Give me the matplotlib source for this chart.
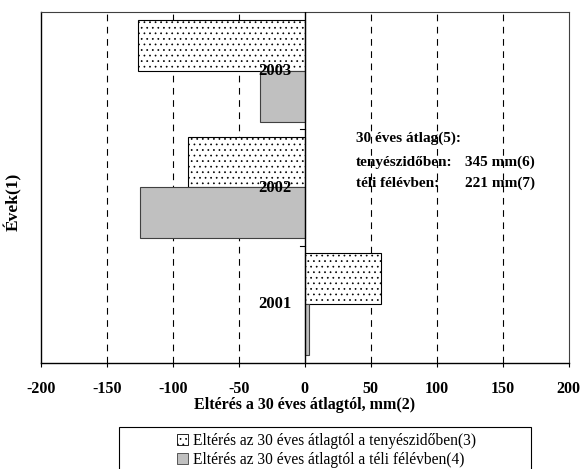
import numpy as np
import matplotlib
matplotlib.use("Agg")
import matplotlib.pyplot as plt
from matplotlib.patches import Patch, Rectangle

plt.rcParams['font.family'] = ['Liberation Serif', 'DejaVu Serif']
plt.rcParams['hatch.linewidth'] = 0.5
plt.rcParams['hatch.color'] = '#333333'

# Deviation from the 30-year average (mm)
years = ['2001', '2002', '2003']
growing_season = [57.6, -88.4, -126.5]   # tenyészidőben (3)
winter_half = [3.3, -125.0, -33.5]       # téli félévben (4)

xticks = [-200, -150, -100, -50, 0, 50, 100, 150, 200]

W, H = 581, 469
fig = plt.figure(figsize=(W / 100, H / 100), dpi=100)
ax = fig.add_axes([40.7 / W, 1 - 362.5 / H, 527.8 / W, 350 / H])

pos = np.arange(len(years))
h = 0.435
ax.barh(pos + h / 2, growing_season, height=h, color='white', edgecolor='black',
        hatch='...', linewidth=0.8, zorder=3)
ax.barh(pos - h / 2, winter_half, height=h, color='#c0c0c0', edgecolor='#404040',
        linewidth=0.8, zorder=3)

ax.set_xlim(-200, 200)
ax.set_ylim(-0.5, len(years) - 0.5)
ax.set_xticks(xticks)
ax.set_xticklabels([str(t) for t in xticks], fontweight='bold', fontsize=11.5)
ax.tick_params(axis='x', length=3, pad=10.5, direction='out')
ax.set_yticks([])

for t in xticks[1:-1]:
    if t != 0:
        ax.axvline(t, color='black', linestyle=(0, (6, 5)), linewidth=0.8, zorder=1)

# category axis at zero
ax.axvline(0, color='black', linewidth=1.0, zorder=4)
for b in np.arange(0.5, len(years) - 0.5):
    ax.plot([-3.8, 0], [b, b], color='black', linewidth=0.8, zorder=4)
for p, y in zip(pos, years):
    ax.annotate(y, xy=(0, p), xytext=(-9.6, 0), textcoords='offset points',
                ha='right', va='center', fontsize=12, fontweight='bold', zorder=5)

for side in ['top', 'right']:
    ax.spines[side].set_color('#404040')
    ax.spines[side].set_linewidth(0.8)
for side in ['left', 'bottom']:
    ax.spines[side].set_linewidth(1.0)

ax.set_xlabel('Eltérés a 30 éves átlagtól, mm(2)', fontweight='bold', fontsize=11.5, labelpad=0)
ax.set_ylabel('Évek(1)', fontweight='bold', fontsize=12.5)
ax.yaxis.set_label_coords(-0.036, 0.459)

ax.text(39, 1.424, '30 éves átlag(5):', fontweight='bold', fontsize=11, va='center')
ax.text(39, 1.218, 'tenyészidőben:', fontweight='bold', fontsize=11, va='center')
ax.text(174.6, 1.218, '345 mm(6)', fontweight='bold', fontsize=11, va='center', ha='right')
ax.text(39, 1.038, 'téli félévben:', fontweight='bold', fontsize=11, va='center')
ax.text(174.6, 1.038, '221 mm(7)', fontweight='bold', fontsize=11, va='center', ha='right')

# legend box (runs off the bottom edge)
fig.patches.append(Rectangle((119 / W, -0.05), 412 / W, 1 - 427 / H + 0.05,
                             transform=fig.transFigure, fill=False,
                             edgecolor='black', linewidth=0.8))
handles = [Patch(facecolor='white', edgecolor='black', hatch='...', linewidth=0.6),
           Patch(facecolor='#c0c0c0', edgecolor='#404040', linewidth=0.6)]
labels = ['Eltérés az 30 éves átlagtól a tenyészidőben(3)',
          'Eltérés az 30 éves átlagtól a téli félévben(4)']
fig.legend(handles, labels, loc='upper left', bbox_to_anchor=(177 / W, 1 - 432.5 / H),
           frameon=False, fontsize=11.2, handlelength=0.7, handleheight=0.7,
           handletextpad=0.3, labelspacing=0.22, borderpad=0, borderaxespad=0)

fig.savefig('out.png', dpi=100)
